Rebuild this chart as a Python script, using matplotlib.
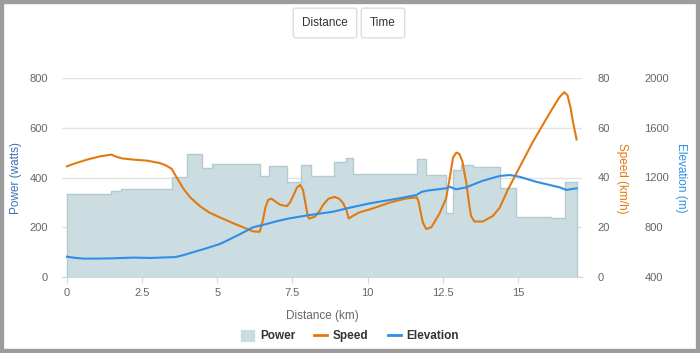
import matplotlib
matplotlib.use("Agg")
import matplotlib.pyplot as plt
from matplotlib.lines import Line2D
from matplotlib.patches import Patch, Rectangle

plt.rcParams["font.family"] = ["Liberation Sans", "DejaVu Sans"]

# Power steps: start km of each block and its average watts
power_km = [0, 1.48, 1.79, 3.48, 3.98, 4.50, 4.83, 6.41, 6.71, 7.32, 7.77, 8.11,
            8.88, 9.29, 9.50, 11.63, 11.95, 12.62, 12.85, 13.10, 13.50, 14.40,
            14.95, 16.10, 16.55]
power_w = [332, 347, 354, 403, 493, 440, 454, 406, 446, 383, 450, 405,
           462, 478, 415, 474, 410, 258, 430, 450, 443, 358,
           243, 238, 382]
power_end_km = 16.95

speed_km = [0, 0.3, 0.7, 1.1, 1.48, 1.65, 1.82, 2.2, 2.65, 3.09, 3.3, 3.48, 3.65,
            3.87, 4.1, 4.42, 4.75, 5.08, 5.53, 6.02, 6.2, 6.41, 6.52, 6.6, 6.69,
            6.8, 6.91, 7.1, 7.32, 7.42, 7.52, 7.65, 7.76, 7.85, 7.91, 8.0, 8.05,
            8.24, 8.4, 8.52, 8.7, 8.9, 9.05, 9.18, 9.29, 9.37, 9.5, 9.73, 10.18,
            10.73, 11.29, 11.64, 11.7, 11.78, 11.84, 11.95, 12.12, 12.39, 12.61,
            12.72, 12.84, 12.95, 13.05, 13.15, 13.28, 13.38, 13.44, 13.55, 13.83,
            14.16, 14.39, 14.66, 14.94, 15.49, 16.05, 16.38, 16.54, 16.65, 16.75,
            16.82, 16.95]
speed_kmh = [44.5, 45.8, 47.3, 48.5, 49.2, 48.3, 47.7, 47.2, 46.8, 45.8, 44.8, 43.5, 40,
             35.5, 32, 28.5, 25.8, 24, 21.6, 19.2, 18.3, 18.2, 23, 28, 31,
             31.5, 30.5, 29, 28.5, 30, 32.5, 36, 37, 35, 31, 25, 23.5,
             24.2, 26.5, 29, 31.5, 32.2, 31.5, 29.8, 27, 23.5, 24.5, 26, 27.6,
             29.9, 31.6, 32, 30, 25, 21.8, 19.3, 20, 25.5, 31.6,
             39, 48, 50, 49.5, 46.5, 38, 29, 24.5, 22.3, 22.3,
             24.5, 27.8, 35, 41.5, 54.2, 65.8, 72.3, 74.3, 73, 68,
             63, 55.3]

elev_km = [0, 0.3, 0.54, 1.0, 1.5, 2.2, 2.8, 3.31, 3.6, 3.86, 4.2, 4.64, 5.08, 5.3,
           5.8, 6.19, 6.63, 7.0, 7.41, 8.07, 8.85, 9.4, 10.07, 11.06, 11.62, 11.8,
           12.0, 12.61, 12.72, 12.95, 13.28, 13.83, 14.39, 14.72, 15.05, 15.6,
           16.05, 16.4, 16.6, 16.95]
elev_m = [563, 553, 548, 548, 550, 556, 553, 558, 560, 575, 600, 631, 665, 690,
          750, 800, 826, 850, 872, 898, 925, 957, 992, 1033, 1059, 1085,
          1095, 1113, 1126, 1105, 1121, 1174, 1212, 1220, 1206, 1166,
          1140, 1120, 1100, 1113]

x_ticks = [0, 2.5, 5, 7.5, 10, 12.5, 15]
x_tick_labels = ["0", "2.5", "5", "7.5", "10", "12.5", "15"]

POWER_FILL = "#cbdde1"
POWER_EDGE = "#b3cbd0"
SPEED_COLOR = "#e27a10"
ELEV_COLOR = "#2e8ee8"
TICK_COLOR = "#666666"

W, H = 700, 353
fig = plt.figure(figsize=(W / 100, H / 100), dpi=100)
ax = fig.add_axes([62 / W, 1 - 277 / H, 520 / W, 199 / H])

# power blocks
px = power_km + [power_end_km]
py = power_w + [power_w[-1]]
ax.fill_between(px, py, 0, step="post", color=POWER_FILL, lw=0, zorder=1)
ax.step(px, py, where="post", color=POWER_EDGE, lw=1, zorder=2)
ax.plot([0, 0], [0, power_w[0]], color=POWER_EDGE, lw=1, zorder=2)
ax.plot([power_end_km] * 2, [0, power_w[-1]], color=POWER_EDGE, lw=1, zorder=2)

ax.set_xlim(-0.166, 17.13)
ax.set_ylim(0, 800)
ax.set_yticks([0, 200, 400, 600, 800])
ax.set_xticks(x_ticks)
ax.set_xticklabels(x_tick_labels)
ax.grid(axis="y", color="#e3e3e3", lw=1, zorder=0)
ax.set_axisbelow(True)
for s in ["top", "right", "left"]:
    ax.spines[s].set_visible(False)
ax.spines["bottom"].set_color("#ccd6eb")
ax.tick_params(axis="y", length=0, pad=10, labelsize=8, labelcolor=TICK_COLOR)
ax.tick_params(axis="x", length=4, color="#ccd6eb", pad=4, labelsize=8,
               labelcolor=TICK_COLOR)

# speed axis
ax2 = ax.twinx()
ax2.plot(speed_km, speed_kmh, color=SPEED_COLOR, lw=1.5, zorder=4)
ax2.set_ylim(0, 80)
ax2.set_yticks([0, 20, 40, 60, 80])
ax2.tick_params(axis="y", length=0, pad=11, labelsize=8, labelcolor=TICK_COLOR)

# elevation axis
ax3 = ax.twinx()
ax3.plot(elev_km, elev_m, color=ELEV_COLOR, lw=1.5, zorder=5)
ax3.set_ylim(400, 2000)
ax3.set_yticks([400, 800, 1200, 1600, 2000])
ax3.tick_params(axis="y", length=0, pad=45, labelsize=8, labelcolor=TICK_COLOR)

for a in (ax2, ax3):
    for s in a.spines.values():
        s.set_visible(False)

# axis titles
fig.text(16 / W, 1 - 178 / H, "Power (watts)", rotation=90, ha="center",
         va="center", fontsize=8.5, color="#3d6fb8")
fig.text(622 / W, 1 - 178 / H, "Speed (km/h)", rotation=-90, ha="center",
         va="center", fontsize=8.5, color=SPEED_COLOR)
fig.text(681 / W, 1 - 178 / H, "Elevation (m)", rotation=-90, ha="center",
         va="center", fontsize=8.5, color=ELEV_COLOR)
fig.text(322 / W, 1 - 316 / H, "Distance (km)", ha="center", va="center",
         fontsize=8.5, color=TICK_COLOR)

# buttons
fig.text(325 / W, 1 - 23 / H, "Distance", ha="center", va="center", fontsize=8.5,
         color="#333333",
         bbox=dict(boxstyle="round,pad=0.75,rounding_size=0.2", fc="white",
                   ec="#dddddd", lw=1))
fig.text(383 / W, 1 - 23 / H, "Time", ha="center", va="center", fontsize=8.5,
         color="#333333",
         bbox=dict(boxstyle="round,pad=0.75,rounding_size=0.2", fc="white",
                   ec="#dddddd", lw=1))

# legend
handles = [
    Patch(facecolor=POWER_FILL, edgecolor=POWER_FILL),
    Line2D([], [], color=SPEED_COLOR, lw=2),
    Line2D([], [], color=ELEV_COLOR, lw=2),
]
leg = fig.legend(handles, ["Power", "Speed", "Elevation"], loc="center",
                 bbox_to_anchor=(350 / W, 1 - 336 / H), ncol=3, frameon=False,
                 handlelength=1.1, handleheight=1.1, handletextpad=0.5,
                 columnspacing=1.6, prop={"weight": "bold", "size": 8.5})
for t in leg.get_texts():
    t.set_color("#333333")

# outer gray frame
fig.patches.append(Rectangle((0, 0), 1, 1, transform=fig.transFigure, fill=False,
                             ec="#9c9c9c", lw=6, zorder=10))

fig.savefig("out.png", dpi=100)
